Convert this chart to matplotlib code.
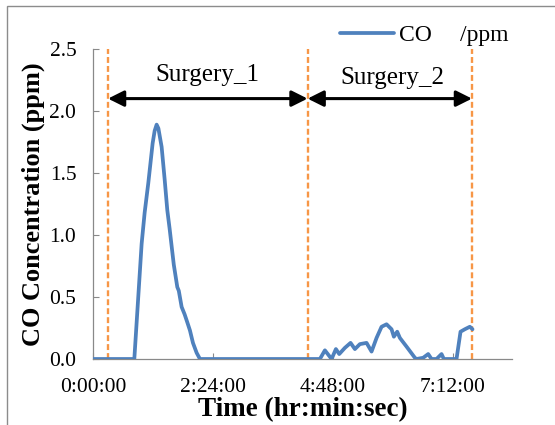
import matplotlib
matplotlib.use("Agg")
import matplotlib.pyplot as plt
from matplotlib.patches import Rectangle

plt.rcParams['font.family'] = ['Liberation Serif', 'DejaVu Serif']

# Time in minutes, CO concentration in ppm
time_min = [0, 49.6, 58.4, 62.0, 66.4, 69.0, 71.6, 74.0, 76.4,
            78.5, 82.4, 86.0, 89.2, 92.0, 94.4, 97.0, 101.2, 103.0, 106.4,
            110.0, 113.0, 116.4, 120.0, 124.4, 128.4, 272.4, 278.4, 286.4,
            291.6, 295.6, 302.4, 309.2, 314.4, 320.4, 328.4, 334.4, 340.4,
            346.4, 352.4, 358.4, 361.2, 365.2, 368.4, 376.4, 386.4, 388.4,
            396.4, 402.4, 406.4, 412.4, 418.4, 421.2, 436.4, 441.2, 446.4,
            452.4, 455.6]
co_ppm = [0, 0, 0.93, 1.18, 1.42, 1.58, 1.74, 1.84, 1.89,
          1.86, 1.71, 1.45, 1.20, 1.05, 0.91, 0.76, 0.58, 0.55, 0.42,
          0.36, 0.30, 0.23, 0.13, 0.05, 0, 0, 0.07, 0,
          0.08, 0.04, 0.09, 0.13, 0.08, 0.12, 0.13, 0.06, 0.17,
          0.26, 0.28, 0.24, 0.18, 0.22, 0.17, 0.10, 0.01, 0,
          0.01, 0.04, 0, 0, 0.04, 0, 0, 0.22, 0.24,
          0.26, 0.24]

surgery_bounds = [18, 257.6, 455]
surgery_labels = ["Surgery_1", "Surgery_2"]
surgery_label_x = [137, 359.6]
surgery_label_y = [2.29, 2.27]
arrow_y = 2.1

x_ticks = [0, 144, 288, 432]
x_tick_labels = ["0:00:00", "2:24:00", "4:48:00", "7:12:00"]
y_ticks = [0.0, 0.5, 1.0, 1.5, 2.0, 2.5]
y_tick_labels = ["0.0", "0.5", "1.0", "1.5", "2.0", "2.5"]

fig = plt.figure(figsize=(5.55, 4.25), dpi=100)
ax = fig.add_axes([93/555, 1-359/425, (512-93)/555, (359-49)/425])

ax.plot(time_min, co_ppm, color='#4F81BD', lw=2.7, label='CO',
        solid_joinstyle='round', solid_capstyle='round', zorder=3)

ax.vlines(surgery_bounds, 0, 2.5, colors='#F79646', lw=1.7,
          linestyles=[(0, (2.5, 1.3))], zorder=2)

for i in range(2):
    ax.annotate('', xy=(surgery_bounds[i], arrow_y),
                xytext=(surgery_bounds[i+1], arrow_y),
                arrowprops=dict(arrowstyle='<|-|>', color='black', lw=2.2,
                                mutation_scale=24, shrinkA=0, shrinkB=0))
    ax.text(surgery_label_x[i], surgery_label_y[i], surgery_labels[i],
            ha='center', va='center', fontsize=18)

ax.set_xlim(0, 503)
ax.set_ylim(0, 2.5)
ax.set_xticks(x_ticks)
ax.set_xticklabels(x_tick_labels, fontsize=15.5)
ax.set_yticks(y_ticks)
ax.set_yticklabels(y_tick_labels, fontsize=15.5)
ax.tick_params(direction='in', length=4.5, width=0.8, color='#898989')
ax.tick_params(axis='x', pad=14)
ax.tick_params(axis='y', pad=12)

for s in ['top', 'right']:
    ax.spines[s].set_visible(False)
for s in ['left', 'bottom']:
    ax.spines[s].set_color('#898989')
    ax.spines[s].set_linewidth(0.9)

ax.set_xlabel('Time (hr:min:sec)', fontsize=19.5, fontweight='bold', labelpad=0)
ax.set_ylabel('CO Concentration (ppm)', fontsize=19, fontweight='bold', labelpad=3)

leg = ax.legend(loc='center left', bbox_to_anchor=(340/555, 1-35/425),
                bbox_transform=fig.transFigure, frameon=False, fontsize=17,
                handlelength=2.3, handletextpad=0.2, borderpad=0, borderaxespad=0)
leg.get_lines()[0].set_linewidth(2.7)
fig.text(460/555, 1-36/425, '/ppm', fontsize=17, ha='left', va='center')

fig.patches.append(Rectangle((7/555, -0.1), 1.2, 1.1 - 6/425, fill=False,
                             edgecolor='#8C8C8C', lw=1.0,
                             transform=fig.transFigure, figure=fig))

fig.savefig('out.png', dpi=100)
